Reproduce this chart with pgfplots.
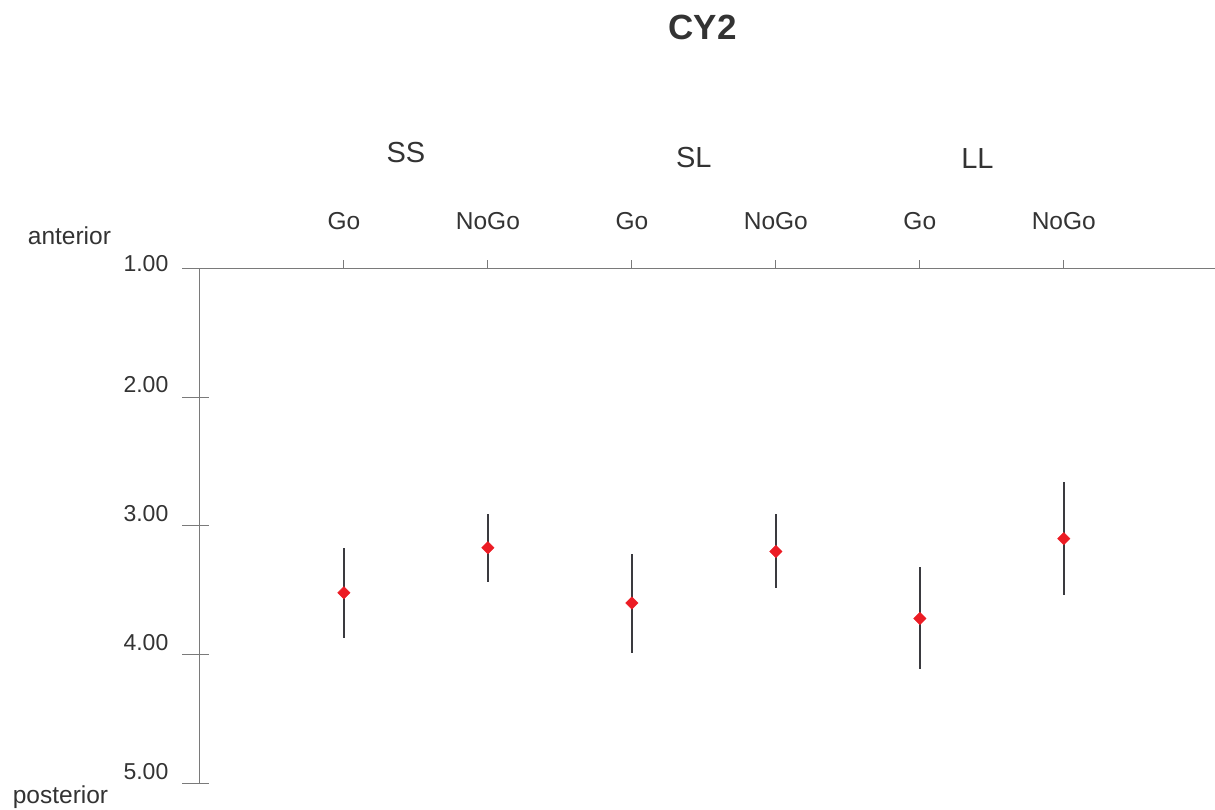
\documentclass[border=0pt]{standalone}
\usepackage{pgfplots}
\pgfplotsset{compat=1.18}
\usepackage{pgfplotstable}
\usepackage{fontspec}
\setmainfont{Liberation Sans}

\definecolor{txt}{HTML}{333333}
\definecolor{axgray}{HTML}{7A7A7A}
\definecolor{barcol}{HTML}{3A3A3F}
\definecolor{ptred}{HTML}{EC1C24}

% condition, mean, upper and lower error
\pgfplotstableread{
x  y     ep    em
1  3.52  0.35  0.35
2  3.17  0.27  0.26
3  3.60  0.39  0.38
4  3.20  0.28  0.29
5  3.72  0.39  0.40
6  3.10  0.44  0.44
}\cytwo

\begin{document}
\begin{tikzpicture}
\useasboundingbox (-200pt,-25.7pt) rectangle (1015pt,783.3pt);

\pgfplotsset{
  common/.style={
    scale only axis, width=1015pt, height=515pt,
    at={(0,0)}, anchor=south west,
    xmin=0, xmax=7.05, ymin=1, ymax=5, y dir=reverse,
    clip=false,
    tick label style={text=txt},
    axis line style={draw=axgray, line width=1pt},
    every tick/.style={draw=axgray, line width=1pt},
  }
}

% y axis: crossing ticks and two-decimal labels
\begin{axis}[common,
  axis x line=none, axis y line*=left,
  ytick={1,2,3,4,5},
  yticklabels={\raisebox{-15pt}[0pt][0pt]{1.00},2.00,3.00,4.00,5.00},
  major tick length=27pt, tick align=center,
  ytick style={xshift=-4pt},
  yticklabel style={font=\fontsize{23}{23}\selectfont, anchor=east, inner sep=0pt, xshift=-18pt, yshift=12pt},
]
\end{axis}

% x axis along the top, the condition means and their error bars
\begin{axis}[common,
  axis y line=none, axis x line*=top,
  xtick={1,2,3,4,5,6},
  xticklabels={Go,NoGo,Go,NoGo,Go,NoGo},
  major tick length=8pt, tick align=outside,
  xticklabel style={font=\fontsize{24.5}{24.5}\selectfont, yshift=27pt},
]
\addplot+[only marks, mark=square*, mark size=4.4pt,
  mark options={rotate=45, fill=ptred, draw=ptred},
  error bars/.cd, y dir=both, y explicit,
  error mark=none,
  error bar style={draw=barcol, line width=1.6pt}]
  table[x=x, y=y, y error plus=ep, y error minus=em] {\cytwo};

\node[font=\fontsize{29}{29}\selectfont, text=txt] at (axis cs:1.43,0.10) {SS};
\node[font=\fontsize{29}{29}\selectfont, text=txt] at (axis cs:3.43,0.136) {SL};
\node[font=\fontsize{29}{29}\selectfont, text=txt] at (axis cs:5.40,0.151) {LL};
\node[font=\fontsize{35}{35}\selectfont\bfseries, text=txt] at (axis cs:3.49,-0.874) {CY2};
\node[font=\fontsize{24.5}{24.5}\selectfont, text=txt] at (axis cs:-0.907,0.749) {anterior};
\node[font=\fontsize{24.5}{24.5}\selectfont, text=txt] at (axis cs:-0.969,5.106) {posterior};
\end{axis}
\end{tikzpicture}
\end{document}
